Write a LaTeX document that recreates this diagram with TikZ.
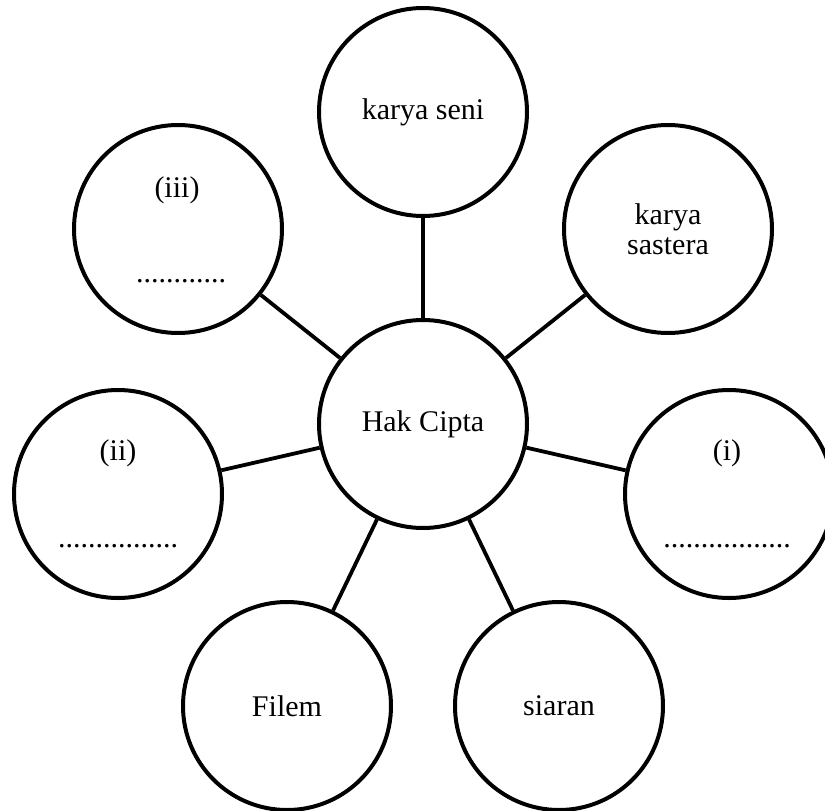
\documentclass[tikz,border=0pt]{standalone}
\usepackage{fontspec}
\setmainfont{Liberation Serif}
\begin{document}
\begin{tikzpicture}[x=1pt,y=-1pt,
  bubble/.style={circle,draw=black,line width=4pt,minimum size=208pt,inner sep=0pt,fill=white,
    font=\fontsize{30}{30}\selectfont,align=center},
  txt/.style={font=\fontsize{30}{30}\selectfont,inner sep=0pt},
  link/.style={draw=black,line width=3.8pt}]
\useasboundingbox (0,0) rectangle (825,811);
\node[bubble] (hak) at (423,424) {Hak Cipta};
\node[bubble] (seni) at (423,112) {karya seni};
\node[bubble] (sastera) at (668,229) {karya\\sastera};
\node[bubble] (iii) at (178,229) {};
\node[bubble] (ii) at (118,494) {};
\node[bubble] (i) at (729,494) {};
\node[bubble] (filem) at (287,706) {Filem};
\node[bubble] (siaran) at (559,706) {siaran};
\node[txt] (iiilab) at (177,190) {(iii)};
\node[txt,anchor=base] (iiidots) at (181,282) {............};
\node[txt] (iilab) at (118,453) {(ii)};
\node[txt,anchor=base] (iidots) at (118,547) {................};
\node[txt] (ilab) at (727,453) {(i)};
\node[txt,anchor=base] (idots) at (727,547) {.................};
\draw[link] (hak) -- (seni);
\draw[link] (hak) -- (sastera);
\draw[link] (hak) -- (iii);
\draw[link] (hak) -- (ii);
\draw[link] (hak) -- (i);
\draw[link] (hak) -- (filem);
\draw[link] (hak) -- (siaran);
\end{tikzpicture}
\end{document}
